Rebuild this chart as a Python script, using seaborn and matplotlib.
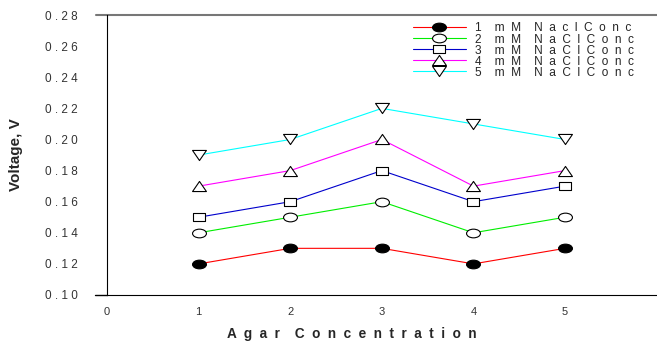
import pandas as pd
import seaborn as sns
import matplotlib.pyplot as plt
from matplotlib.path import Path
from matplotlib.transforms import Affine2D

agar = [1, 2, 3, 4, 5]
series_names = ["1    m  M    N  a  c  l  C  o  n  c", "2    m  M    N  a  C  l  C  o  n  c",
                "3    m  M    N  a  C  l  C  o  n  c", "4    m  M    N  a  C  l  C  o  n  c",
                "5    m  M    N  a  C  l  C  o  n  c"]
v1 = [0.12, 0.13, 0.13, 0.12, 0.13]
v2 = [0.14, 0.15, 0.16, 0.14, 0.15]
v3 = [0.15, 0.16, 0.18, 0.16, 0.17]
v4 = [0.17, 0.18, 0.20, 0.17, 0.18]
v5 = [0.19, 0.20, 0.22, 0.21, 0.20]
yticks = [0.10, 0.12, 0.14, 0.16, 0.18, 0.20, 0.22, 0.24, 0.26, 0.28]
xticks = [0, 1, 2, 3, 4, 5]

# wide, flat markers like the original
squash = Affine2D().scale(1.6, 1.0)
ellipse = Path.unit_circle().transformed(squash)
square = Path([(-1, -1), (1, -1), (1, 1), (-1, 1), (-1, -1)],
              [Path.MOVETO, Path.LINETO, Path.LINETO, Path.LINETO, Path.CLOSEPOLY]).transformed(Affine2D().scale(1.4, 1.0))
tri_up = Path([(-1, -0.8), (1, -0.8), (0, 0.8), (-1, -0.8)],
              [Path.MOVETO, Path.LINETO, Path.LINETO, Path.CLOSEPOLY]).transformed(Affine2D().scale(1.1, 1.0))
tri_down = tri_up.transformed(Affine2D().scale(1, -1))

colors = ["red", "#00ee00", "#0000cc", "magenta", "cyan"]
markers = [ellipse, ellipse, square, tri_up, tri_down]
faces = ["black", "white", "white", "white", "white"]
msizes = [10, 10, 9, 10, 10]

sns.set_style("white")
plt.rcParams['font.family'] = ['Liberation Sans', 'DejaVu Sans']

fig, ax = plt.subplots(figsize=(6.57, 3.43), dpi=100)
fig.subplots_adjust(left=0.163, right=0.9995, bottom=0.14, top=0.956)

for name, vals, c, m, f, ms in zip(series_names, [v1, v2, v3, v4, v5], colors, markers, faces, msizes):
    df = pd.DataFrame({"x": agar, "y": vals})
    sns.lineplot(data=df, x="x", y="y", ax=ax, color=c, lw=0.8, label=name,
                 marker=m, markersize=ms, markerfacecolor=f,
                 markeredgecolor="black", markeredgewidth=0.8)

ax.set_xlim(0, 6)
ax.set_ylim(0.10, 0.28)
ax.set_xticks(xticks)
ax.set_xticklabels([str(t) for t in xticks], fontsize=8, color="#333333")
ax.set_yticks(yticks)
ax.set_yticklabels([" ".join(f"{t:.2f}") for t in yticks], fontsize=8.5, color="#333333")
ax.tick_params(axis="y", direction="out", length=9, width=1, color="#666666", pad=12)
ax.tick_params(axis="x", direction="out", length=4, width=1, color="#888888", pad=5)

for s in ["top", "right"]:
    ax.spines[s].set_visible(False)
ax.spines["left"].set_color("black")
ax.spines["bottom"].set_color("black")
ax.axhline(0.28, xmin=-0.02, xmax=1, color="#777777", lw=1.5, clip_on=False)
ax.axhline(0.10, xmin=-0.022, xmax=0, color="black", lw=1, clip_on=False)

ax.set_xlabel("A  g  a  r    C  o  n  c  e  n  t  r  a  t  i  o  n", fontsize=9.8, fontweight="bold")
ax.xaxis.set_label_coords(0.445, -0.115)
ax.set_ylabel("Voltage, V", fontsize=11, fontweight="bold", labelpad=16)

leg = ax.legend(loc="upper left", bbox_to_anchor=(0.545, 0.995), frameon=False, fontsize=8.6,
                handlelength=4.5, labelspacing=-0.08, borderpad=0.0, handletextpad=0.7)

fig.savefig("out.png", dpi=100)
